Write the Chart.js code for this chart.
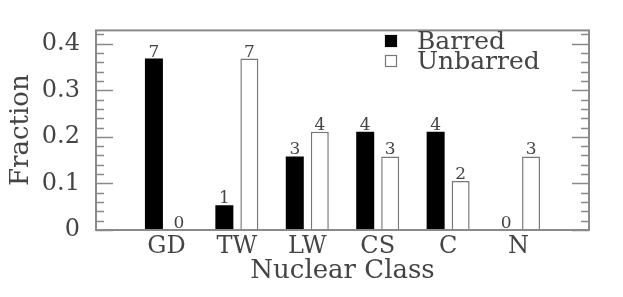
<!DOCTYPE html>
<html>
<head>
<meta charset="utf-8">
<script src="https://cdn.jsdelivr.net/npm/chart.js@4.4.1/dist/chart.umd.min.js"></script>
<style>
  html, body { margin: 0; padding: 0; background: #fff; }
  #wrap { width: 623px; height: 297px; }
</style>
</head>
<body>
<div id="wrap"><canvas id="fracChart" width="623" height="297"></canvas></div>
<script>
// nuclear classes and fractions per class
var categories = ["GD", "TW", "LW", "CS", "C", "N"];
var barredFrac = [0.368, 0.053, 0.158, 0.211, 0.211, 0];
var unbarredFrac = [0, 0.368, 0.211, 0.158, 0.105, 0.158];
var barredCounts = [7, 1, 3, 4, 4, 0];
var unbarredCounts = [0, 7, 4, 3, 2, 3];
var yTicks = [0, 0.1, 0.2, 0.3, 0.4];
var yMinorStep = 0.02;

var FONT = "'DejaVu Serif', serif";
var TEXT = "#444";
var AXIS = "#8a8a8a";

// blank slot on each side of the classes
var labels = [""].concat(categories, [""]);
function pad(arr) {
  return [null].concat(arr, [null]);
}

// frame, inward ticks on left/right, legend
var framePlugin = {
  id: "frame",
  afterDatasetsDraw: function (chart) {
    var ctx = chart.ctx;
    var a = chart.chartArea;
    var y = chart.scales.y;
    ctx.save();
    ctx.strokeStyle = AXIS;
    ctx.lineWidth = 1.5;
    // minor + major ticks
    for (var v = 0; v <= y.max + 1e-9; v += yMinorStep) {
      var py = Math.round(y.getPixelForValue(v)) + 0.5;
      var isMajor = Math.abs(v * 10 - Math.round(v * 10)) < 1e-6;
      var len = isMajor ? 17 : 8;
      ctx.beginPath();
      ctx.moveTo(a.left, py);
      ctx.lineTo(a.left + len, py);
      ctx.moveTo(a.right, py);
      ctx.lineTo(a.right - len, py);
      ctx.stroke();
    }
    ctx.lineWidth = 2;
    ctx.strokeRect(a.left, a.top, a.right - a.left, a.bottom - a.top);

    // legend
    var lx = 385, ly = 35;
    chart.data.datasets.forEach(function (ds, i) {
      var ry = ly + i * 20;
      ctx.fillStyle = ds.backgroundColor;
      ctx.fillRect(lx, ry, 12, 12);
      ctx.lineWidth = 1.2;
      ctx.strokeStyle = ds.borderColor;
      ctx.strokeRect(lx + 0.5, ry + 0.5, 11, 11);
      ctx.fillStyle = TEXT;
      ctx.font = "25px " + FONT;
      ctx.textBaseline = "alphabetic";
      ctx.textAlign = "left";
      ctx.fillText(ds.label, 417, ry + 14);
    });
    ctx.restore();
  },
};

// counts above each bar
var countPlugin = {
  id: "counts",
  afterDatasetsDraw: function (chart) {
    var ctx = chart.ctx;
    var counts = [barredCounts, unbarredCounts];
    ctx.save();
    ctx.fillStyle = TEXT;
    ctx.font = "17px " + FONT;
    ctx.textAlign = "center";
    ctx.textBaseline = "alphabetic";
    chart.data.datasets.forEach(function (ds, di) {
      var meta = chart.getDatasetMeta(di);
      meta.data.forEach(function (bar, i) {
        if (i === 0 || i === labels.length - 1) return;
        ctx.fillText(String(counts[di][i - 1]), bar.x, bar.y - 2);
      });
    });
    ctx.restore();
  },
};

var ctxFrac = document.getElementById("fracChart").getContext("2d");
new Chart(ctxFrac, {
  type: "bar",
  data: {
    labels: labels,
    datasets: [
      {
        label: "Barred",
        data: pad(barredFrac),
        backgroundColor: "#000",
        borderColor: "#000",
        borderWidth: 0,
        categoryPercentage: 0.71,
        barPercentage: 0.72,
      },
      {
        label: "Unbarred",
        data: pad(unbarredFrac),
        backgroundColor: "#fff",
        borderColor: "#777",
        borderWidth: 1.5,
        categoryPercentage: 0.71,
        barPercentage: 0.72,
      },
    ],
  },
  options: {
    responsive: false,
    animation: false,
    layout: { padding: { top: 20, right: 34, left: 0, bottom: 0 } },
    scales: {
      x: {
        type: "category",
        offset: false,
        grid: { display: false, drawTicks: false },
        border: { display: false },
        ticks: {
          color: TEXT,
          font: { family: FONT, size: 24 },
          padding: 2,
          maxRotation: 0,
          autoSkip: false,
        },
        title: {
          display: true,
          text: "Nuclear Class",
          color: TEXT,
          font: { family: FONT, size: 26 },
          padding: { top: 0, bottom: 10 },
        },
        afterFit: function (scale) {
          scale.height = 67;
        },
      },
      y: {
        min: 0,
        max: 0.4286,
        grid: { display: false, drawTicks: false },
        border: { display: false },
        afterBuildTicks: function (scale) {
          scale.ticks = yTicks.map(function (v) {
            return { value: v };
          });
        },
        ticks: {
          color: TEXT,
          font: { family: FONT, size: 24 },
          padding: 16,
          callback: function (v) {
            return v === 0 ? "0" : v.toFixed(1);
          },
        },
        title: {
          display: true,
          text: "Fraction",
          color: TEXT,
          font: { family: FONT, size: 26 },
          padding: { top: 6, bottom: 0 },
        },
        afterFit: function (scale) {
          scale.width = 96;
        },
      },
    },
    plugins: {
      legend: { display: false },
      tooltip: { enabled: false },
    },
  },
  plugins: [framePlugin, countPlugin],
});
</script>
</body>
</html>
